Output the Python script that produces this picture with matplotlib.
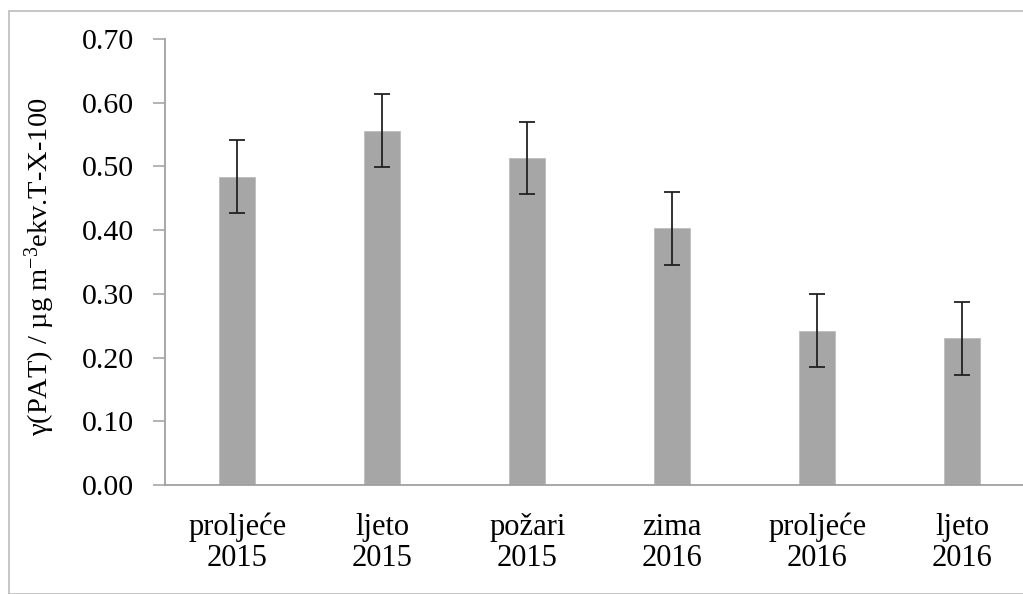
# PAT concentrations by sampling season, with error bars
import numpy as np
import matplotlib
matplotlib.use('Agg')
import matplotlib.pyplot as plt
from matplotlib.patches import Rectangle

# Data
seasons = ['proljeće\n2015', 'ljeto\n2015', 'požari\n2015',
           'zima\n2016', 'proljeće\n2016', 'ljeto\n2016']
pat_mean = [0.484, 0.556, 0.513, 0.403, 0.242, 0.230]
pat_err = [0.057, 0.057, 0.056, 0.057, 0.057, 0.057]
yticks = [0.00, 0.10, 0.20, 0.30, 0.40, 0.50, 0.60, 0.70]

plt.rcParams['font.family'] = ['Liberation Serif', 'DejaVu Serif']
plt.rcParams['mathtext.fontset'] = 'custom'
plt.rcParams['mathtext.rm'] = 'Liberation Serif'
plt.rcParams['mathtext.it'] = 'Liberation Serif:italic'

W, H = 1023, 594
fig = plt.figure(figsize=(W/100, H/100), dpi=100)

# Outer frame
fig.patches.append(Rectangle((8.5/W, 0), 1.2, (H-11)/H, transform=fig.transFigure,
                             fill=False, edgecolor='#bcbcbc', linewidth=1.2))

ax = fig.add_axes([165/W, (H-485)/H, (1034.5-165)/W, 446/H])
x = np.arange(len(seasons))
ax.bar(x, pat_mean, width=0.248, color='#a6a6a6', edgecolor='#bdbdbd', linewidth=0.6,
       yerr=pat_err, capsize=5.5,
       error_kw=dict(ecolor='#222222', elinewidth=1.3, capthick=1.3), zorder=2)

ax.set_xlim(-0.5, 5.5)
ax.set_ylim(0, 0.70)
ax.set_yticks(yticks)
ax.set_yticklabels([f'{v:.2f}' for v in yticks])
ax.set_xticks(x)
ax.set_xticklabels(seasons, linespacing=1.1)

for side in ['top', 'right']:
    ax.spines[side].set_visible(False)
for side in ['left', 'bottom']:
    ax.spines[side].set_color('#a0a0a0')
    ax.spines[side].set_linewidth(1.3)

ax.tick_params(axis='y', length=9, width=1.1, color='#a0a0a0', labelsize=21.5, pad=13)
ax.tick_params(axis='x', length=0, labelsize=22, pad=20)

ax.set_ylabel(r'γ(PAT) / µg m$^{\mathregular{-3}}$ekv.T-X-100', fontsize=20.5)
ax.yaxis.set_label_coords(-0.124, 0.49)

fig.savefig('out.png', dpi=100)
